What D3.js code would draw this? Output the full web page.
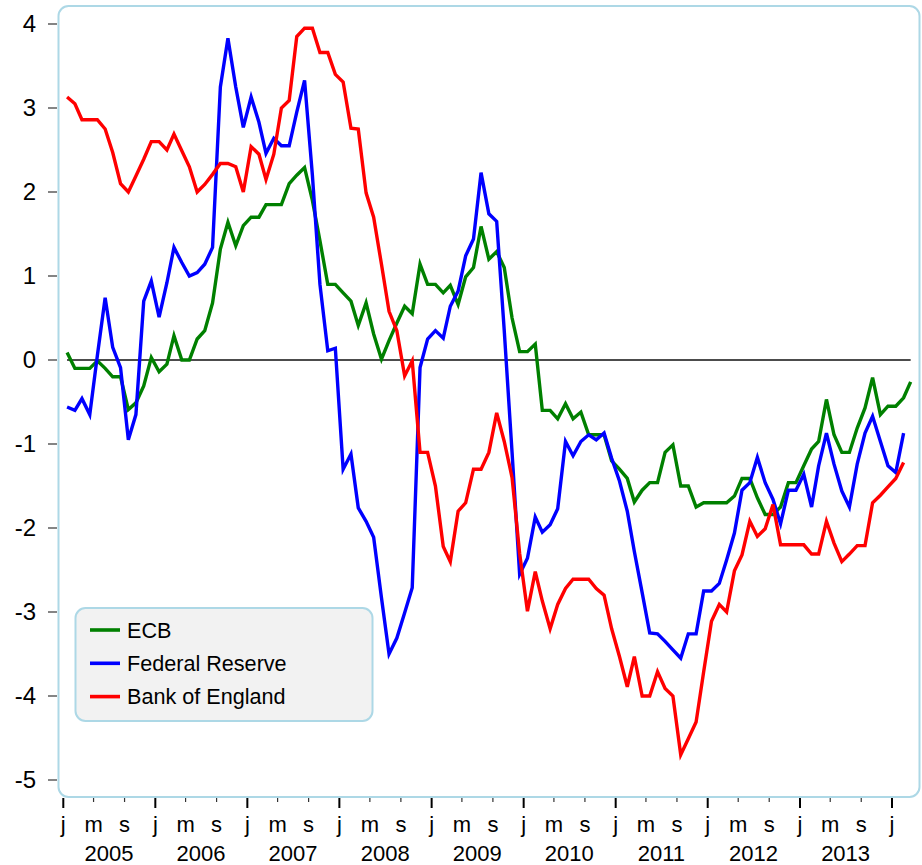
<!DOCTYPE html>
<html>
<head>
<meta charset="utf-8">
<script src="https://cdn.jsdelivr.net/npm/d3@7"></script>
<style>
  html, body { margin: 0; padding: 0; background: #fff; }
  svg text { font-family: "Liberation Sans", Arial, sans-serif; fill: #000; }
</style>
</head>
<body>
<div id="chart"></div>
<script>
// Monthly values, starting January 2005
const START_YEAR = 2005;

const ecb = [
  0.09, -0.10, -0.10, -0.10, -0.01, -0.10, -0.20, -0.20, -0.59, -0.51, -0.31, 0.03,
  -0.14, -0.05, 0.29, 0.00, 0.00, 0.25, 0.35, 0.68, 1.32, 1.64, 1.36, 1.60,
  1.70, 1.70, 1.85, 1.85, 1.85, 2.10, 2.20, 2.29, 1.90, 1.42, 0.90, 0.90,
  0.80, 0.70, 0.41, 0.68, 0.31, 0.01, 0.23, 0.44, 0.64, 0.55, 1.14, 0.90,
  0.90, 0.80, 0.89, 0.66, 0.99, 1.10, 1.59, 1.20, 1.29, 1.10, 0.50, 0.10,
  0.10, 0.19, -0.60, -0.60, -0.70, -0.52, -0.70, -0.62, -0.89, -0.89, -0.89, -1.20,
  -1.30, -1.41, -1.69, -1.55, -1.46, -1.46, -1.10, -1.01, -1.50, -1.50, -1.75, -1.70,
  -1.70, -1.70, -1.70, -1.62, -1.41, -1.41, -1.64, -1.84, -1.84, -1.75, -1.46, -1.46,
  -1.26, -1.06, -0.97, -0.47, -0.89, -1.10, -1.10, -0.81, -0.57, -0.21, -0.65, -0.55,
  -0.55, -0.45, -0.26
];

const fed = [
  -0.56, -0.60, -0.46, -0.65, 0.05, 0.74, 0.15, -0.09, -0.95, -0.65, 0.70, 0.94,
  0.51, 0.92, 1.34, 1.16, 1.00, 1.04, 1.14, 1.34, 3.25, 3.83, 3.25, 2.77,
  3.13, 2.83, 2.46, 2.64, 2.55, 2.55, 2.95, 3.33, 2.20, 0.90, 0.11, 0.14,
  -1.30, -1.12, -1.76, -1.92, -2.11, -2.83, -3.50, -3.31, -3.01, -2.71, -0.09, 0.25,
  0.35, 0.26, 0.64, 0.82, 1.24, 1.44, 2.23, 1.74, 1.65, 0.35, -1.10, -2.55,
  -2.36, -1.87, -2.05, -1.96, -1.77, -0.97, -1.14, -0.97, -0.89, -0.95, -0.87, -1.17,
  -1.44, -1.80, -2.28, -2.77, -3.25, -3.26, -3.35, -3.45, -3.55, -3.26, -3.26, -2.75,
  -2.75, -2.66, -2.38, -2.06, -1.55, -1.46, -1.16, -1.46, -1.66, -1.95, -1.55, -1.55,
  -1.36, -1.75, -1.26, -0.87, -1.24, -1.56, -1.75, -1.24, -0.87, -0.67, -0.97, -1.26,
  -1.34, -0.87
];

const boe = [
  3.13, 3.05, 2.86, 2.86, 2.86, 2.75, 2.47, 2.10, 2.00, 2.19, 2.39, 2.60,
  2.60, 2.50, 2.69, 2.49, 2.30, 2.00, 2.09, 2.21, 2.34, 2.34, 2.30, 2.00,
  2.54, 2.45, 2.15, 2.45, 3.00, 3.09, 3.85, 3.95, 3.95, 3.66, 3.66, 3.40,
  3.31, 2.76, 2.75, 1.99, 1.70, 1.14, 0.58, 0.35, -0.19, -0.01, -1.10, -1.10,
  -1.50, -2.22, -2.40, -1.80, -1.70, -1.30, -1.30, -1.10, -0.63, -0.97, -1.40, -2.30,
  -2.99, -2.52, -2.87, -3.20, -2.91, -2.72, -2.61, -2.61, -2.61, -2.72, -2.80, -3.20,
  -3.53, -3.89, -3.53, -4.00, -4.00, -3.71, -3.91, -4.00, -4.70, -4.51, -4.31, -3.71,
  -3.11, -2.91, -3.00, -2.51, -2.32, -1.92, -2.10, -2.01, -1.72, -2.20, -2.20, -2.20,
  -2.20, -2.31, -2.31, -1.92, -2.18, -2.40, -2.31, -2.21, -2.21, -1.70, -1.61, -1.51,
  -1.41, -1.22
];

const seriesNames = ['ECB', 'Federal Reserve', 'Bank of England'];
const seriesColors = ['#008000', '#0000ff', '#ff0000'];
const yTicks = [4, 3, 2, 1, 0, -1, -2, -3, -4, -5];
const monthLetters = { 0: 'j', 4: 'm', 8: 's' };
const yearLabels = [2005, 2006, 2007, 2008, 2009, 2010, 2011, 2012, 2013];

(function() {
  'use strict';

  const width = 922, height = 865;
  const toDate = i => new Date(START_YEAR, i, 16);

  const svg = d3.select('#chart').append('svg')
    .attr('width', width)
    .attr('height', height);

  const x = d3.scaleTime()
    .domain([new Date(2005, 0, 1), new Date(2014, 0, 1)])
    .range([63.3, 892]);

  const y = d3.scaleLinear()
    .domain([-5, 4])
    .range([780, 24]);

  // Panel frame
  svg.append('rect')
    .attr('x', 58.5).attr('y', 6)
    .attr('width', 861).attr('height', 791)
    .attr('rx', 10).attr('ry', 10)
    .attr('fill', '#fff')
    .attr('stroke', '#add8e6')
    .attr('stroke-width', 2);

  // Y axis ticks + labels
  const yAxis = svg.append('g');
  yAxis.selectAll('line')
    .data(yTicks)
    .join('line')
    .attr('x1', 48).attr('x2', 57)
    .attr('y1', d => y(d)).attr('y2', d => y(d))
    .attr('stroke', '#333')
    .attr('stroke-width', 1.2);
  yAxis.selectAll('text')
    .data(yTicks)
    .join('text')
    .attr('x', 36)
    .attr('y', d => y(d))
    .attr('dy', '0.35em')
    .attr('text-anchor', 'end')
    .style('font-size', '24px')
    .text(d => d);

  // X axis: ticks at Jan / May / Sep
  const tickDates = d3.timeMonth.every(4).range(new Date(2005, 0, 1), new Date(2014, 1, 1));
  const xAxis = svg.append('g');
  xAxis.selectAll('line')
    .data(tickDates)
    .join('line')
    .attr('x1', d => x(d)).attr('x2', d => x(d))
    .attr('y1', 798)
    .attr('y2', d => d.getMonth() === 0 ? 808 : 802)
    .attr('stroke', d => d.getMonth() === 0 ? '#000' : '#333')
    .attr('stroke-width', d => d.getMonth() === 0 ? 2 : 1.2);
  xAxis.selectAll('text.month')
    .data(tickDates)
    .join('text')
    .attr('class', 'month')
    .attr('x', d => x(d))
    .attr('y', 832)
    .attr('text-anchor', 'middle')
    .style('font-size', '22px')
    .text(d => monthLetters[d.getMonth()]);
  xAxis.selectAll('text.year')
    .data(yearLabels)
    .join('text')
    .attr('class', 'year')
    .attr('x', d => x(new Date(d, 6, 1)))
    .attr('y', 861)
    .attr('text-anchor', 'middle')
    .style('font-size', '22px')
    .text(d => d);

  // Zero line across data span
  const allSeries = [ecb, fed, boe];
  const maxLen = d3.max(allSeries, s => s.length);
  svg.append('line')
    .attr('x1', x(toDate(0))).attr('x2', x(toDate(maxLen - 1)))
    .attr('y1', y(0)).attr('y2', y(0))
    .attr('stroke', '#111')
    .attr('stroke-width', 1.6);

  // Series
  const line = d3.line()
    .x((d, i) => x(toDate(i)))
    .y(d => y(d));

  svg.append('g')
    .selectAll('path')
    .data(allSeries)
    .join('path')
    .attr('d', d => line(d))
    .attr('fill', 'none')
    .attr('stroke', (d, i) => seriesColors[i])
    .attr('stroke-width', 3.4);

  // Legend
  const legend = svg.append('g');
  legend.append('rect')
    .attr('x', 75.5).attr('y', 608)
    .attr('width', 297).attr('height', 113)
    .attr('rx', 10).attr('ry', 10)
    .attr('fill', '#f2f2f2')
    .attr('stroke', '#add8e6')
    .attr('stroke-width', 2);
  const items = legend.selectAll('g')
    .data(seriesNames)
    .join('g')
    .attr('transform', (d, i) => `translate(0, ${630 + i * 33.3})`);
  items.append('line')
    .attr('x1', 90).attr('x2', 120)
    .attr('stroke', (d, i) => seriesColors[i])
    .attr('stroke-width', 3.6);
  items.append('text')
    .attr('x', 127)
    .attr('dy', '0.35em')
    .style('font-size', '21.6px')
    .text(d => d);
})();
</script>
</body>
</html>
